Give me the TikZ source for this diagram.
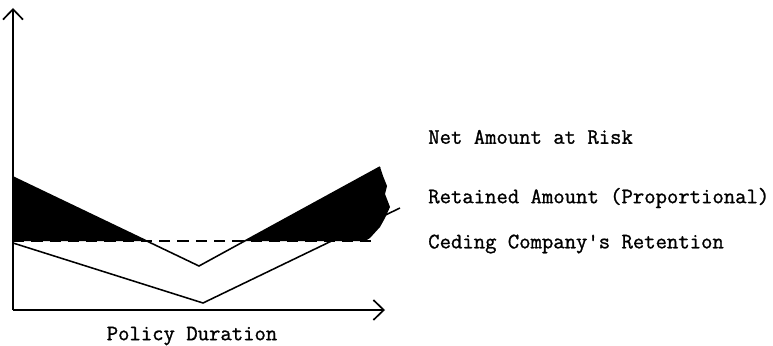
\documentclass[tikz,border=0pt]{standalone}
\usepackage{fontspec}
\newfontfamily\typefont{Latin Modern Mono}[FakeBold=1.1]
\usetikzlibrary{arrows.meta}

\begin{document}
\begin{tikzpicture}[x=1cm, y=1cm, >={Straight Barb[length=2.6mm, width=5mm]},
    curve/.style={line width=1.1pt},
    label/.style={font=\typefont\fontsize{15.7}{18}\selectfont, anchor=west, inner sep=0pt}]
    \useasboundingbox (-0.325,-0.875) rectangle (19.0,7.75);

    % Shaded areas above the retention line
    \fill[black] (0,3.325) -- (3.344,1.725) -- (0,1.725) -- cycle;
    \fill[black] (5.793,1.725) -- (9.175,3.575) -- (9.25,3.35) -- (9.35,3.1)
        -- (9.3,2.9) -- (9.425,2.575) -- (9.3,2.3) -- (9.175,2.075)
        -- (8.925,1.8) -- (8.8,1.725) -- cycle;

    % Axes
    \draw[->, line width=1.2pt] (0,0) -- (9.3,0);
    \draw[->, line width=1.2pt] (0,0) -- (0,7.55);

    % Ceding company's retention (dashed)
    \draw[line width=1pt, dash pattern=on 8pt off 5pt] (0,1.725) -- (9.0,1.725);

    % Net amount at risk
    \draw[curve] (0,3.325) -- (4.65,1.1) -- (9.175,3.575);

    % Retained amount (proportional)
    \draw[curve] (0,1.675) -- (4.75,0.175) -- (9.675,2.55);

    % Labels
    \node[label] (net) at (10.375,4.325) {Net Amount at Risk};
    \node[label] (ret) at (10.375,2.8) {Retained Amount (Proportional)};
    \node[label] (ced) at (10.375,1.65) {Ceding Company's Retention};
    \node[label, anchor=center] (dur) at (4.475,-0.65) {Policy Duration};
\end{tikzpicture}
\end{document}
